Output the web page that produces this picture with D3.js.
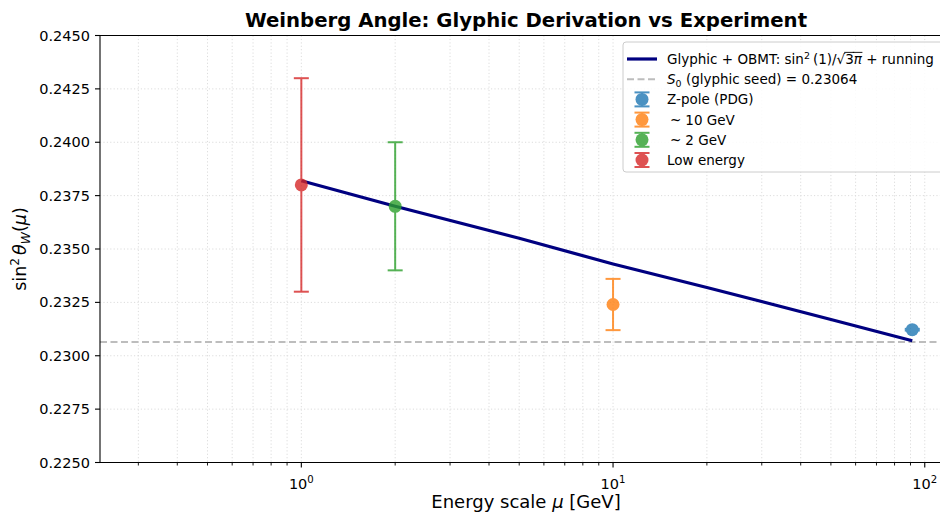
<!DOCTYPE html>
<html>
<head>
<meta charset="utf-8">
<script src="https://cdn.jsdelivr.net/npm/d3@7"></script>
<style>
  body { margin: 0; background: #fff; }
  svg { font-family: "DejaVu Sans", sans-serif; }
  svg text { white-space: pre; }
</style>
</head>
<body>
<svg id="chart" width="940" height="516"></svg>
<script>
// --- data ---
const lineMu = [1, 2, 5, 10, 20, 50, 91.19];
const lineS = [0.2382, 0.2370, 0.2355, 0.2343, 0.2332, 0.2317, 0.2307];

const expLabels = ["Z-pole (PDG)", "~10 GeV", "~2 GeV", "Low energy"];
const expMu = [91.19, 10, 2, 1];
const expVal = [0.23122, 0.2324, 0.2370, 0.2380];
const expErr = [0.00004, 0.0012, 0.0030, 0.0050];
const expColors = ["#1f77b4", "#ff7f0e", "#2ca02c", "#d62728"];

const seedValue = 0.23064;
const yTicks = [0.2250, 0.2275, 0.2300, 0.2325, 0.2350, 0.2375, 0.2400, 0.2425, 0.2450];
const xMajor = [1, 10, 100];
const xMinor = [0.3, 0.4, 0.5, 0.6, 0.7, 0.8, 0.9, 2, 3, 4, 5, 6, 7, 8, 9, 20, 30, 40, 50, 60, 70, 80, 90];

const svg = d3.select("#chart");
const box = { left: 100, right: 950, top: 35.5, bottom: 462.5 };

const x = d3.scaleLog().domain([0.226, 120.5]).range([box.left, box.right]);
const y = d3.scaleLinear().domain([0.225, 0.245]).range([box.bottom, box.top]);

// little helper for mathtext-ish labels: parts laid out one after another
function mathText(g, parts, size, anchor) {
    let cx = 0;
    parts.forEach(p => {
        const fs = (p.sup || p.sub) ? size * 0.7 : size;
        const dy = p.sup ? -size * 0.4 : (p.sub ? size * 0.22 : 0);
        const t = g.append("text")
            .attr("x", cx).attr("y", dy)
            .attr("font-size", fs)
            .attr("font-style", p.it ? "italic" : "normal")
            .attr("fill", "#000")
            .text(p.t);
        const w = t.node().getComputedTextLength();
        if (p.over) {
            g.append("line").attr("x1", cx - 1).attr("x2", cx + w + 0.5)
                .attr("y1", -size * 0.86).attr("y2", -size * 0.86)
                .attr("stroke", "#000").attr("stroke-width", 0.9);
        }
        cx += w + (p.gap || 0);
    });
    if (anchor === "middle") g.selectAll("*").attr("transform", `translate(${-cx / 2},0)`);
    return cx;
}

// --- grid ---
const grid = svg.append("g");
xMajor.concat(xMinor).forEach(v => {
    grid.append("line").attr("x1", x(v)).attr("x2", x(v))
        .attr("y1", box.top).attr("y2", box.bottom)
        .attr("stroke", "#dcdcdc").attr("stroke-width", 1).attr("stroke-dasharray", "1.2,2.2");
});
yTicks.forEach(v => {
    grid.append("line").attr("x1", box.left).attr("x2", box.right)
        .attr("y1", y(v)).attr("y2", y(v))
        .attr("stroke", "#dcdcdc").attr("stroke-width", 1).attr("stroke-dasharray", "1.2,2.2");
});

// seed line
svg.append("line")
    .attr("x1", box.left).attr("x2", box.right)
    .attr("y1", y(seedValue)).attr("y2", y(seedValue))
    .attr("stroke", "#bdbdbd").attr("stroke-width", 2).attr("stroke-dasharray", "7,3.5");

// running line
const lineGen = d3.line().x((d, i) => x(lineMu[i])).y(d => y(d));
svg.append("path").datum(lineS)
    .attr("d", lineGen)
    .attr("fill", "none").attr("stroke", "#000080").attr("stroke-width", 3.2);

// error bars
function drawErrorbar(g, cx, cy, yTop, yBot, color) {
    const e = g.append("g").attr("opacity", 0.8);
    e.append("line").attr("x1", cx).attr("x2", cx).attr("y1", yTop).attr("y2", yBot)
        .attr("stroke", color).attr("stroke-width", 2);
    [yTop, yBot].forEach(yy => {
        e.append("line").attr("x1", cx - 7.5).attr("x2", cx + 7.5).attr("y1", yy).attr("y2", yy)
            .attr("stroke", color).attr("stroke-width", 2);
    });
    e.append("circle").attr("cx", cx).attr("cy", cy).attr("r", 6.5).attr("fill", color);
}
const bars = svg.append("g");
expMu.forEach((m, i) => {
    drawErrorbar(bars, x(m), y(expVal[i]), y(expVal[i] + expErr[i]), y(expVal[i] - expErr[i]), expColors[i]);
});

// --- axes ---
const ax = svg.append("g").attr("stroke", "#000");
ax.append("line").attr("x1", box.left).attr("x2", box.right).attr("y1", box.top).attr("y2", box.top);
ax.append("line").attr("x1", box.left).attr("x2", box.right).attr("y1", box.bottom).attr("y2", box.bottom);
ax.append("line").attr("x1", box.left).attr("x2", box.left).attr("y1", box.top).attr("y2", box.bottom);
ax.append("line").attr("x1", box.right).attr("x2", box.right).attr("y1", box.top).attr("y2", box.bottom);
ax.selectAll("line").attr("stroke-width", 1.1);

yTicks.forEach(v => {
    ax.append("line").attr("x1", box.left - 5).attr("x2", box.left)
        .attr("y1", y(v)).attr("y2", y(v)).attr("stroke-width", 1.1);
    svg.append("text").attr("x", box.left - 10).attr("y", y(v) + 5)
        .attr("text-anchor", "end").attr("font-size", 14.5)
        .text(d3.format(".4f")(v));
});
xMinor.forEach(v => {
    ax.append("line").attr("x1", x(v)).attr("x2", x(v))
        .attr("y1", box.bottom).attr("y2", box.bottom + 3).attr("stroke-width", 0.9);
});
xMajor.forEach(v => {
    ax.append("line").attr("x1", x(v)).attr("x2", x(v))
        .attr("y1", box.bottom).attr("y2", box.bottom + 5).attr("stroke-width", 1.1);
    const g = svg.append("g").attr("transform", `translate(${x(v)},${box.bottom + 26})`);
    mathText(g, [{ t: "10" }, { t: String(Math.log10(v)), sup: true }], 14.5, "middle");
});

// axis labels
const xl = svg.append("g").attr("transform", "translate(526,508)");
mathText(xl, [{ t: "Energy scale " }, { t: "μ", it: true }, { t: " [GeV]" }], 18, "middle");

const yl = svg.append("g").attr("transform", `translate(26,${(box.top + box.bottom) / 2}) rotate(-90)`);
mathText(yl, [{ t: "sin" }, { t: "2", sup: true, gap: 3 }, { t: "θ", it: true }, { t: "W", it: true, sub: true }, { t: "(" }, { t: "μ", it: true }, { t: ")" }], 17.5, "middle");

// title
svg.append("text").attr("x", 526).attr("y", 27)
    .attr("text-anchor", "middle").attr("font-size", 19.7).attr("font-weight", "bold")
    .text("Weinberg Angle: Glyphic Derivation vs Experiment");

// --- legend ---
const leg = svg.append("g").attr("transform", "translate(623,42)");
leg.append("rect").attr("x", 0).attr("y", 0).attr("width", 320).attr("height", 130).attr("rx", 3)
    .attr("fill", "#fff").attr("fill-opacity", 0.85).attr("stroke", "#cccccc").attr("stroke-width", 1);
const rowY = i => 17 + i * 20.2;
const fs = 13.5;

leg.append("line").attr("x1", 4).attr("x2", 34).attr("y1", rowY(0)).attr("y2", rowY(0))
    .attr("stroke", "#000080").attr("stroke-width", 3.2);
mathText(leg.append("g").attr("transform", `translate(44,${rowY(0) + 5})`), [
    { t: "Glyphic + OBMT: sin" }, { t: "2", sup: true, gap: 3 }, { t: "(1)/√" }, { t: "3", over: true }, { t: "π", it: true, over: true }, { t: " + running" }
], fs);

leg.append("line").attr("x1", 4).attr("x2", 34).attr("y1", rowY(1)).attr("y2", rowY(1))
    .attr("stroke", "#bdbdbd").attr("stroke-width", 2).attr("stroke-dasharray", "7,3.5");
mathText(leg.append("g").attr("transform", `translate(44,${rowY(1) + 5})`), [
    { t: "S", it: true }, { t: "0", sub: true }, { t: " (glyphic seed) = 0.23064" }
], fs);

expLabels.forEach((lab, i) => {
    const cy = rowY(i + 2);
    drawErrorbar(leg, 19, cy, cy - 7, cy + 7, expColors[i]);
    const tilde = lab.startsWith("~");
    const g = leg.append("g").attr("transform", `translate(${tilde ? 47 : 44},${cy + 5})`);
    if (tilde) {
        mathText(g, [{ t: "~", gap: 4 }, { t: lab.slice(1) }], fs);
    } else {
        mathText(g, [{ t: lab }], fs);
    }
});
</script>
</body>
</html>
